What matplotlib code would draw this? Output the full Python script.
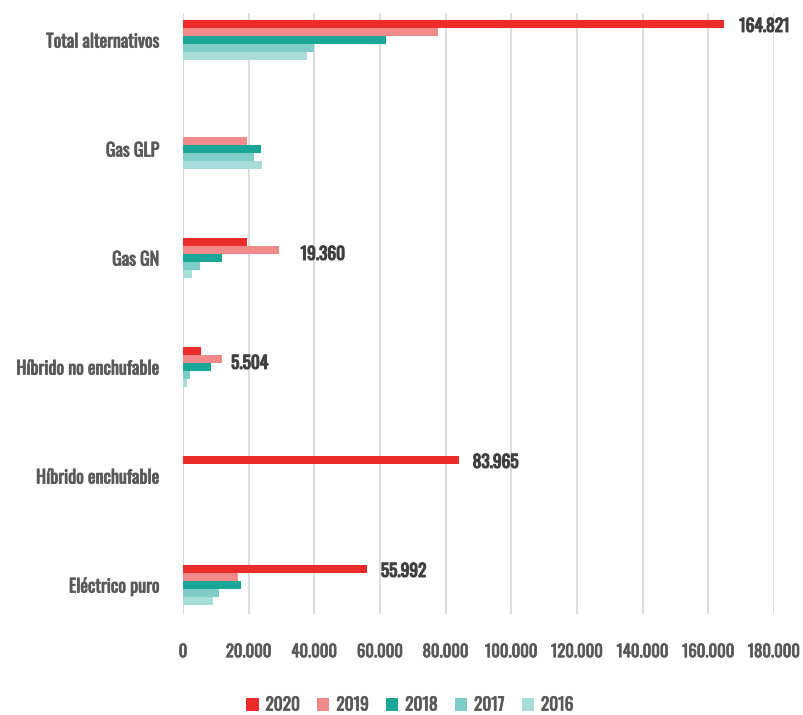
import matplotlib
matplotlib.use("Agg")
import matplotlib.pyplot as plt
import matplotlib.patheffects as pe
import numpy as np

plt.rcParams['font.family'] = ['Oswald', 'DejaVu Sans']

categories = ["Total alternativos", "Gas GLP", "Gas GN",
              "Híbrido no enchufable", "Híbrido enchufable", "Eléctrico puro"]
years = ["2020", "2019", "2018", "2017", "2016"]

v2020 = [164821, 0, 19360, 5504, 83965, 55992]
v2019 = [77600, 19500, 29200, 11900, 0, 16700]
v2018 = [61800, 23700, 11900, 8500, 0, 17700]
v2017 = [39900, 21600, 5200, 2100, 0, 11000]
v2016 = [37700, 24000, 2700, 1300, 0, 9100]

series = [v2020, v2019, v2018, v2017, v2016]
colors = ["#EC2B2B", "#F28A8A", "#1BA797", "#7ECDC9", "#A9DDDA"]

# labels shown on the 2020 bars (None = no label); offsets in pixels
label_values = [164821, None, 19360, 5504, 83965, 55992]
label_offsets = [(15, -2), None, (54, -12), (30, -12), (14, -2), (14, -2)]

xticks = [0, 20000, 40000, 60000, 80000, 100000, 120000, 140000, 160000, 180000]

GRAY = "#595959"
DARK = "#404040"


def fmt(v):
    return f"{v:,}".replace(",", ".")


def heavier(color, lw=0.55):
    return [pe.withStroke(linewidth=lw, foreground=color)]


fig = plt.figure(figsize=(8.04, 7.15), dpi=100)
ax = fig.add_axes([183 / 804, 1 - 614 / 715, (774 - 183) / 804, (614 - 13) / 715])

y = np.arange(len(categories))
h = 0.0716
for i, (vals, col) in enumerate(zip(series, colors)):
    ax.barh(y + (i - 2) * h, vals, height=h, color=col, label=years[i], zorder=3)

for yi, (val, off) in enumerate(zip(label_values, label_offsets)):
    if val is None:
        continue
    ax.annotate(fmt(val), xy=(val, yi - 2 * h), xytext=off,
                textcoords="offset pixels", ha="left", va="center",
                fontsize=12.5, color=DARK, path_effects=heavier(DARK, 0.8),
                annotation_clip=False, zorder=4)

ax.set_xlim(0, 180000)
ax.set_ylim(5 + 29 / 109, -27 / 109)
ax.set_xticks(xticks)
ax.set_xticklabels([fmt(t) for t in xticks], fontsize=12, color=GRAY)
ax.set_yticks(y)
ax.set_yticklabels(categories, fontsize=13, color=GRAY)
for t in ax.get_xticklabels() + ax.get_yticklabels():
    t.set_path_effects(heavier(GRAY))
ax.tick_params(axis="x", length=0, pad=21)
ax.tick_params(axis="y", length=0, pad=17)

ax.grid(axis="x", color="#D9D9D9", linewidth=1.3, zorder=0)
for s in ax.spines.values():
    s.set_visible(False)
ax.axvline(0, color="#D9D9D9", linewidth=1.3, zorder=1)

leg = fig.legend(loc="center", bbox_to_anchor=(410 / 804, 1 - 705 / 715), ncol=5,
                 frameon=False, fontsize=12.5, handlelength=0.7, handleheight=0.7,
                 handletextpad=0.4, columnspacing=0.98, labelcolor=GRAY)
for t in leg.get_texts():
    t.set_path_effects(heavier(GRAY))

fig.savefig("out.png", dpi=100)
